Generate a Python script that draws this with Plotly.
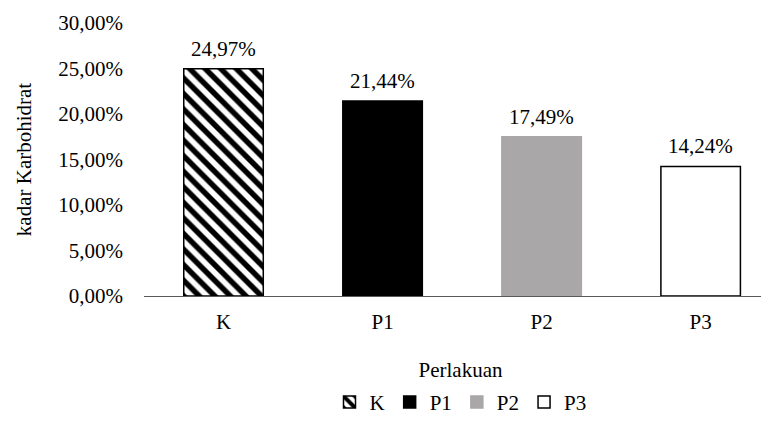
import plotly.graph_objects as go

categories = ["K", "P1", "P2", "P3"]
values = [24.97, 21.44, 17.49, 14.24]
y_ticks = [0, 5, 10, 15, 20, 25, 30]

fills = ["white", "black", "#a9a7a7", "white"]
lines = ["black", "black", "#a9a7a7", "black"]
patterns = ["\\", "", "", ""]

FONT = "Liberation Serif, Tinos, Times New Roman, DejaVu Serif, serif"


def pct(v):
    return f"{v:.2f}".replace(".", ",") + "%"


fig = go.Figure()
for c, v, f, lc, p in zip(categories, values, fills, lines, patterns):
    marker = dict(color=f, line=dict(color=lc, width=1.5))
    if p:
        marker["pattern"] = dict(shape=p, size=11, solidity=0.5, fgcolor="black",
                                 fgopacity=1, bgcolor="white", fillmode="replace")
    fig.add_trace(go.Bar(x=[c], y=[v], name=c, width=0.5, marker=marker))

annotations = [
    dict(x=c, y=v, text=pct(v), showarrow=False, yanchor="bottom", yshift=6,
         font=dict(family=FONT, size=21, color="black"))
    for c, v in zip(categories, values)
]

fig.update_layout(
    width=769, height=421,
    margin=dict(l=136, r=0, t=15, b=133),
    paper_bgcolor="white", plot_bgcolor="white",
    font=dict(family=FONT, size=21, color="black"),
    barmode="overlay",
    showlegend=True,
    annotations=annotations,
    legend=dict(orientation="h", x=0.5, xanchor="center", y=-0.39, yanchor="middle",
                font=dict(family=FONT, size=21), itemwidth=30, traceorder="normal"),
    xaxis=dict(
        categoryorder="array", categoryarray=categories, automargin=False,
        range=[-0.5, 3.48], showline=True, linecolor="#595959", linewidth=1,
        ticks="", ticklabelstandoff=7, showgrid=False,
        title=dict(text="Perlakuan", standoff=29, font=dict(family=FONT, size=21)),
    ),
    yaxis=dict(
        range=[0, 30], tickvals=y_ticks, ticktext=[pct(t) for t in y_ticks],
        automargin=False,
        showline=False, showgrid=False, zeroline=False, ticks="", ticklabelstandoff=20,
        title=dict(text="kadar Karbohidrat", standoff=20, font=dict(family=FONT, size=21)),
    ),
)

fig.write_html("out.html")
